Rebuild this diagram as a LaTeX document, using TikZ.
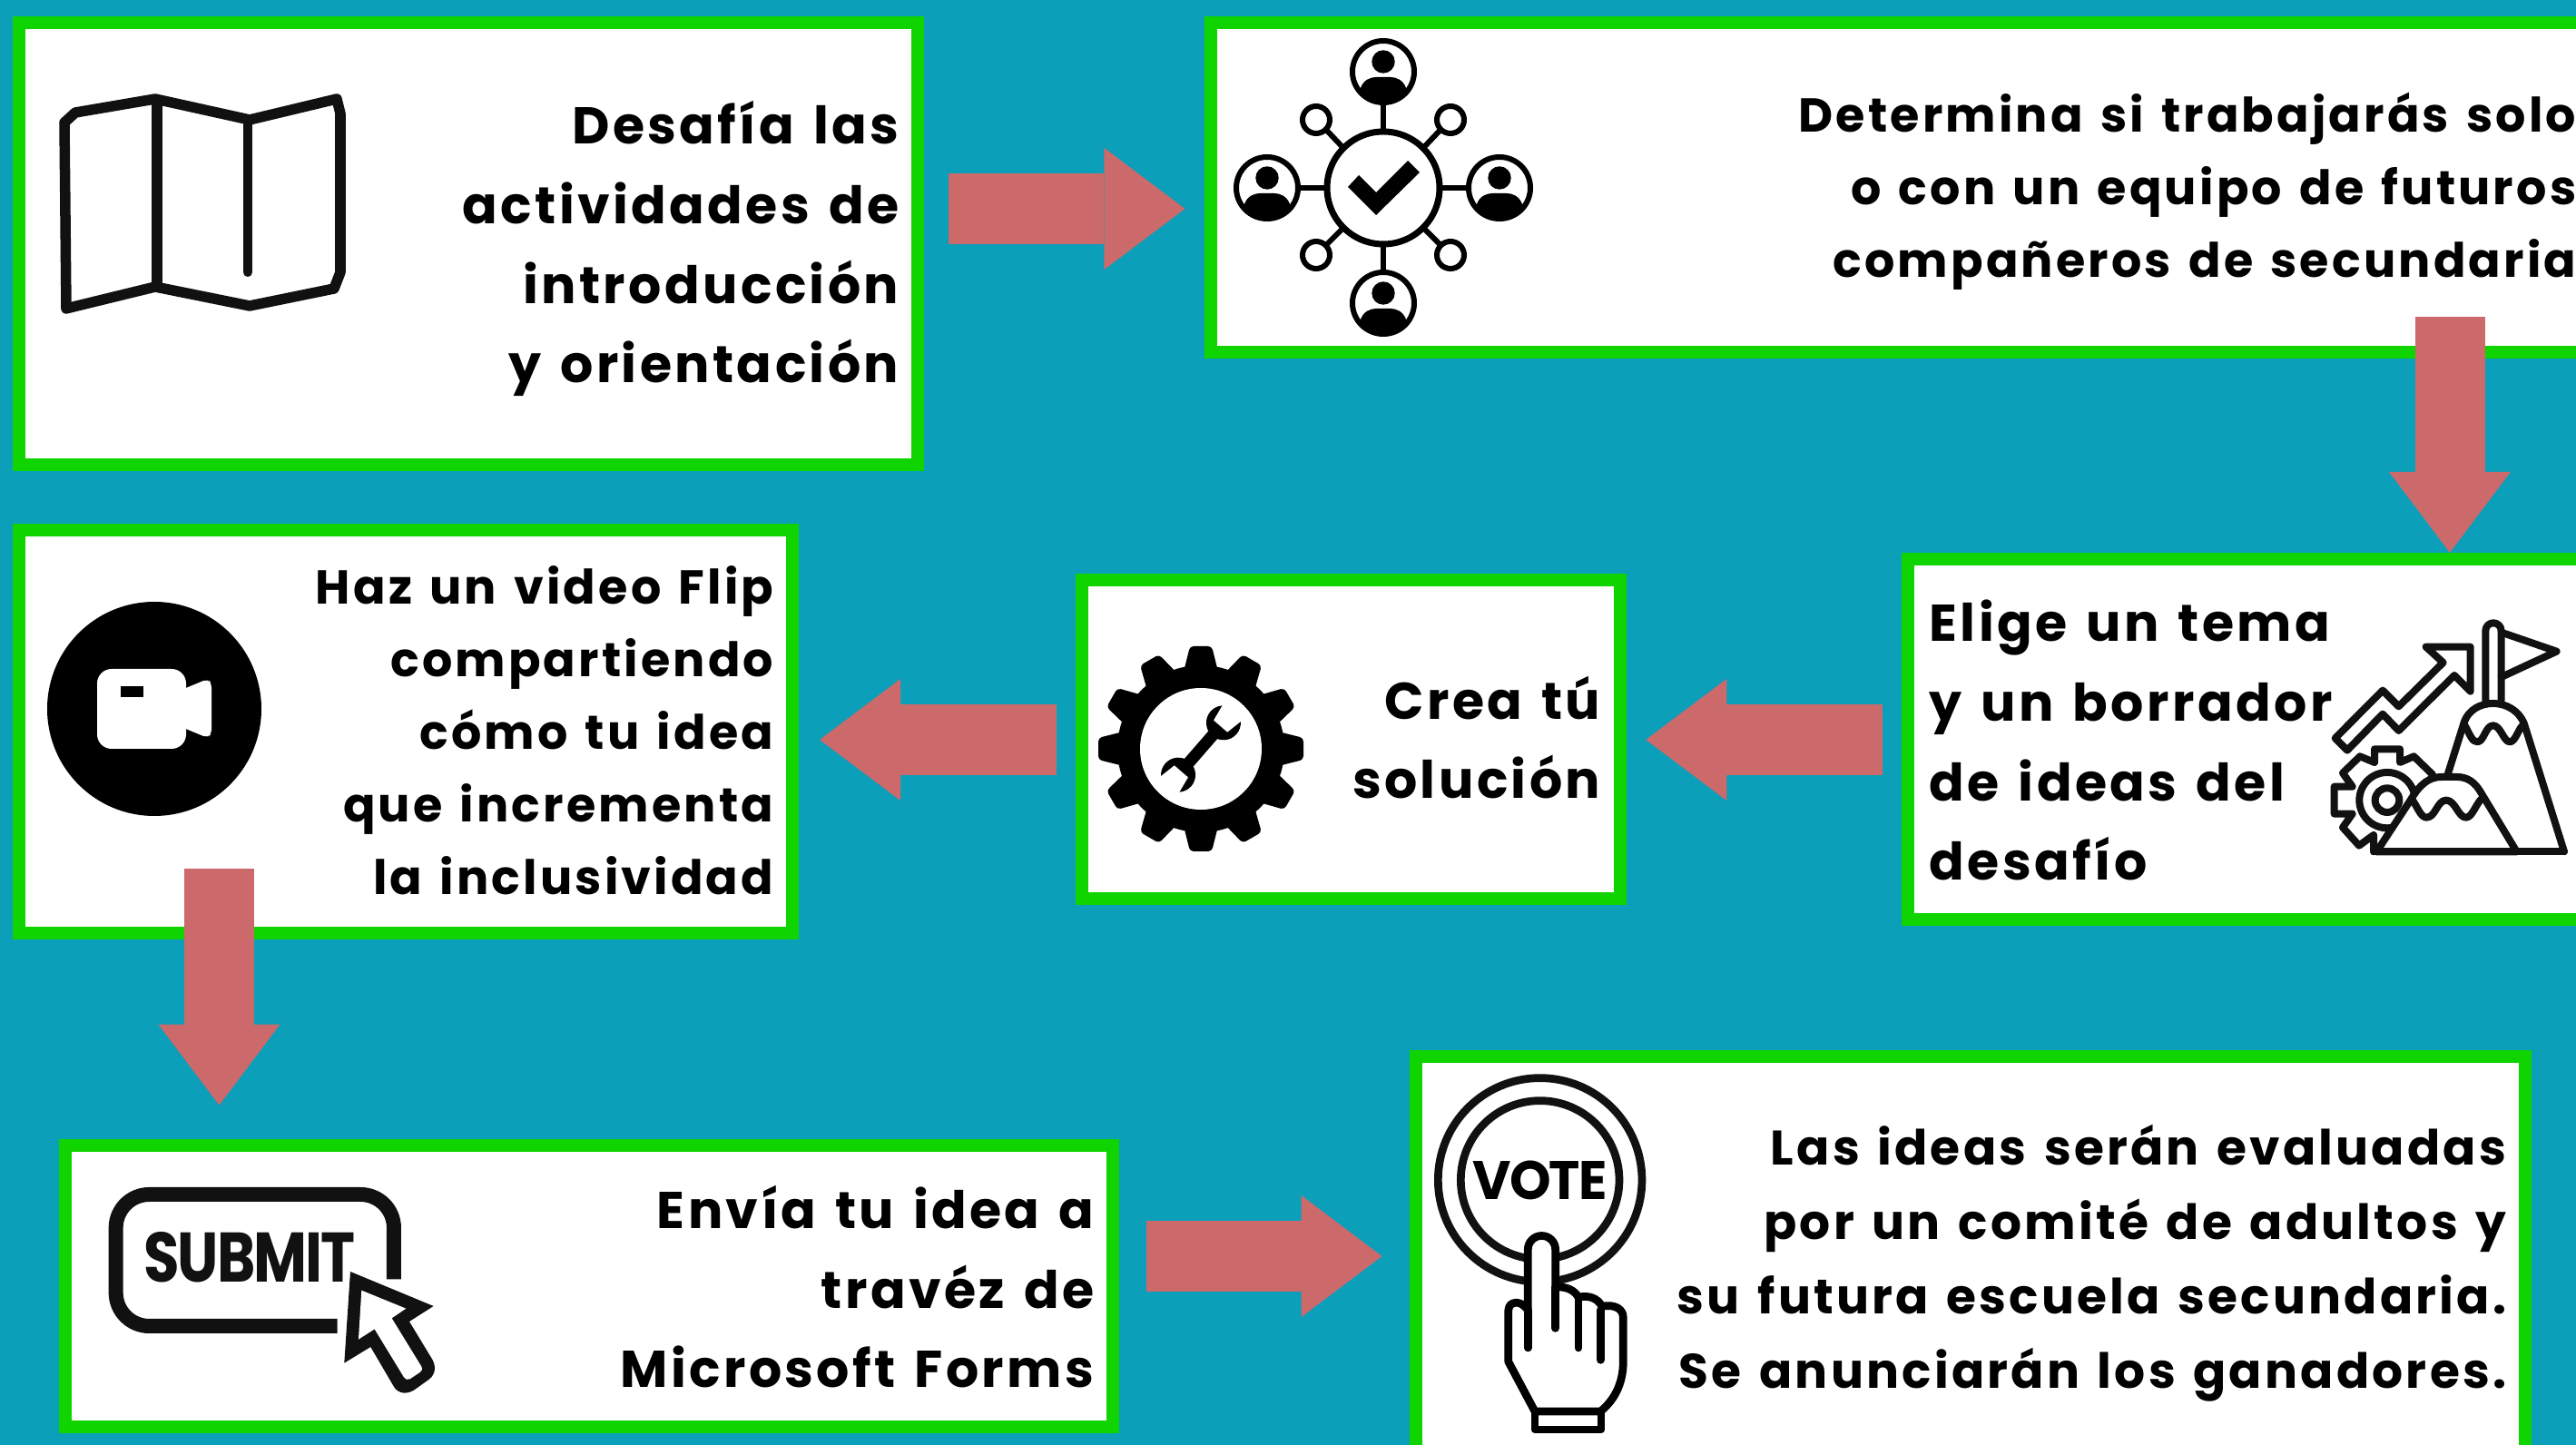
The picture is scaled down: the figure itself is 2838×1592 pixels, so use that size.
\documentclass[tikz,border=0pt]{standalone}
\usepackage{fontspec}
\usetikzlibrary{arrows.meta}
\newfontfamily\letra[LetterSpace=6,WordSpace=1.35]{Poppins}
\newfontfamily\letraIcono[LetterSpace=-3]{Poppins}
\definecolor{fondo}{HTML}{0B9FBA}
\definecolor{verdeCaja}{HTML}{10D400}
\definecolor{rojoFlecha}{HTML}{CB696B}
\definecolor{negroIcono}{HTML}{111111}
\tikzset{
  caja/.style={draw=verdeCaja,fill=white,line width=.14cm,inner sep=0pt},
  flecha/.style={draw=rojoFlecha,line width=.77cm,-{Triangle[length=.89cm,width=1.34cm,line width=0pt,fill=rojoFlecha]}},
  textoBase/.style={inner sep=0pt,anchor=base east,align=right,text=black},
  textoG/.style={textoBase,font=\letra\bfseries\fontsize{16.2}{25}\selectfont},
  textoP/.style={textoBase,font=\letra\bfseries\fontsize{14.9}{22.8}\selectfont},
  textoV/.style={textoBase,font=\letra\bfseries\fontsize{15.2}{23.4}\selectfont},
  trazo/.style={draw=negroIcono,line width=.08cm,line cap=round,line join=round},
  linea/.style={draw=black,line width=.06cm},
  persona/.pic={
    \draw[linea,fill=white] (0,0) circle[radius=34];
    \fill (0,-11) circle[radius=12.7];
    \fill (-25,18) .. controls (-22,9) and (-14,6) .. (-8,6) -- (8,6) .. controls (14,6) and (22,9) .. (25,18)
      -- (26,22) arc[start angle=40,end angle=140,radius=34] -- cycle;
  }
}
\begin{document}
\begin{tikzpicture}[x=.01cm,y=-.01cm]
	\path[use as bounding box,clip] (0,0) rectangle (2838,1592);
	\fill[fondo] (0,0) rectangle (2838,1592);
	\node[caja,minimum width=9.895cm,minimum height=4.87cm] (reto) at (516,268.5) {};
	\node[caja,minimum width=15.66cm,minimum height=3.63cm] (equipo) at (2117,206.5) {};
	\node[caja,minimum width=7.98cm,minimum height=3.97cm] (tema) at (2501,814.5) {};
	\node[caja,minimum width=5.93cm,minimum height=3.51cm] (solucion) at (1488.5,814.5) {};
	\node[caja,minimum width=8.515cm,minimum height=4.44cm] (video) at (447,806) {};
	\node[caja,minimum width=11.54cm,minimum height=3.105cm] (envio) at (649,1417) {};
	\node[caja,minimum width=12.22cm,minimum height=4.85cm] (jurado) at (2171,1407) {};
	\node[textoG] (txtReto) at (991,422) {Desafía las\\actividades de\\introducción\\y orientación};
	\node[textoP] (txtEquipo) at (2839,306) {Determina si trabajarás solo\\o con un equipo de futuros\\compañeros de secundaria};
	\node[textoG,align=left,anchor=base west] (txtTema) at (2125,970) {Elige un tema\\y un borrador\\de ideas del\\desafío};
	\node[textoG] (txtSolucion) at (1764,880) {Crea tú\\solución};
	\node[textoP] (txtVideo) at (853,986) {Haz un video Flip\\compartiendo\\cómo tu idea\\que incrementa\\la inclusividad};
	\node[textoG] (txtEnvio) at (1206,1529) {Envía tu idea a\\travéz de\\Microsoft Forms};
	\node[textoV] (txtJurado) at (2762,1530) {Las ideas serán evaluadas\\por un comité de adultos y\\su futura escuela secundaria.\\Se anunciarán los ganadores.};
	\draw[trazo,line width=.115cm] (73,340) -- (71,135) -- (83,124) -- (171,109) -- (275,132) -- (371,109) -- (375,125) -- (375,300) -- (368,318) -- (275,337) -- (171,316) -- (85,337) -- cycle;
	\draw[trazo,line width=.115cm] (173,112) -- (173,312);
	\draw[trazo,line width=.1cm] (273,135) -- (273,300);
	\draw[linea,line width=.07cm] (1524,207) circle[radius=62];
	\draw[linea] (1524,116) -- (1524,145) (1524,269) -- (1524,298) (1433,207) -- (1462,207) (1586,207) -- (1615,207);
	\draw[linea] (1461,143) -- (1480,163) (1587,143) -- (1568,163) (1461,270) -- (1480,251) (1587,270) -- (1568,251);
	\draw[linea] (1450,132) circle[radius=15] (1598,132) circle[radius=15] (1450,281) circle[radius=15] (1598,281) circle[radius=15];
	\pic at (1524,79) {persona};
	\pic at (1396,207) {persona};
	\pic at (1652,207) {persona};
	\pic at (1524,334) {persona};
	\fill (1485,206) -- (1497,193) -- (1516,212) -- (1551,177) -- (1564,190) -- (1516,237) -- cycle;
	\begin{scope}[shift={(2500,640)},scale=.3333]
		\draw[trazo] (218,520) -- (375,362) -- (428,415) -- (575,270) -- (518,218) -- (665,218) -- (665,365) -- (612,312) -- (428,495) -- (375,440) -- (258,560) -- cycle;
		\draw[trazo] (715,395) -- (715,165) arc[start angle=180,end angle=360,radius=26] -- (767,395);
		\draw[trazo] (767,170) -- (950,233) -- (767,318);
		\draw[trazo] (590,640) -- (645,465) .. controls (660,425) and (700,405) .. (740,405) .. controls (785,405) and (825,430) .. (842,470) -- (975,895);
		\draw[trazo] (645,475) .. controls (665,510) and (670,532) .. (688,532) .. controls (710,532) and (715,478) .. (740,478) .. controls (765,478) and (775,532) .. (795,532) .. controls (812,532) and (820,500) .. (835,480);
		\draw[trazo] (348,600) -- (348,556) -- (432,556) -- (432,600) -- (478,580) -- (540,640);
		\draw[trazo] (348,600) -- (300,580) -- (243,635) -- (275,680) -- (215,680) -- (215,770) -- (275,770) -- (243,815) -- (297,875) -- (345,840) -- (345,895);
		\draw[trazo] (390,725) circle[radius=92] (390,725) circle[radius=40];
		\draw[trazo,fill=white] (355,895) -- (470,720) .. controls (500,670) and (530,648) .. (570,648) -- (620,648) .. controls (655,648) and (680,665) .. (700,700) -- (818,895) -- cycle;
		\draw[trazo] (470,720) .. controls (490,745) and (500,782) .. (520,782) .. controls (550,782) and (555,725) .. (585,725) .. controls (615,725) and (625,782) .. (650,782) .. controls (670,782) and (680,745) .. (700,722);
		\draw[trazo] (345,895) -- (975,895);
	\end{scope}
	\fill (1323,825) circle[radius=92];
	\foreach \a in {0,30,...,330}
		\fill[shift={(1323,825)},rotate=\a,rounded corners=.04cm] (-19,-85) -- (-12,-113) -- (12,-113) -- (19,-85) -- cycle;
	\fill[white] (1323,825) circle[radius=67];
	\begin{scope}[shift={(1323,825)},rotate=49]
		\fill (-26,-6.5) rectangle (26,6.5);
		\fill (38,0) circle[radius=19] (-38,0) circle[radius=19];
		\fill[white] (33,-10) -- (33,10) -- (60,15) -- (60,-15) -- cycle;
		\fill[white] (-33,-10) -- (-33,10) -- (-60,15) -- (-60,-15) -- cycle;
	\end{scope}
	\fill (170,781) circle[radius=118];
	\fill[white,rounded corners=.16cm] (107,737) rectangle (205,825);
	\fill[white,rounded corners=.05cm] (200,760) -- (229,748) -- (233,753) -- (233,808) -- (229,813) -- (200,801) -- cycle;
	\fill (133,756) rectangle (158,768);
	\begin{scope}[shift={(90,1270)},scale=.3333]
		\draw[negroIcono,line width=.16cm,rounded corners=.367cm] (845,573) -- (113,573) -- (113,138) -- (1032,138) -- (1032,418);
		\node[font=\letraIcono\bfseries\fontsize{22}{22}\selectfont,text=negroIcono,inner sep=0pt] (boton) at (555,345) {\scalebox{.83}[1]{SUBMIT}};
		\fill[negroIcono] (888,393) -- (1163,507) -- (1083,558) -- (1160,685) .. controls (1175,715) and (1165,740) .. (1140,755) -- (1105,780) .. controls (1080,800) and (1045,800) .. (1030,770) -- (955,642) -- (868,695) -- cycle;
		\fill[white] (925,455) -- (1072,515) -- (1025,547) -- (1122,705) .. controls (1128,715) and (1125,722) .. (1118,726) -- (1085,748) .. controls (1078,752) and (1070,750) .. (1065,742) -- (968,583) -- (915,617) -- cycle;
	\end{scope}
	\begin{scope}[shift={(1540,1150)},scale=.3333]
		\draw[trazo,line width=.087cm] (470,450) circle[radius=337] (470,450) circle[radius=262];
		\node[font=\letraIcono\bfseries\fontsize{17}{17}\selectfont,text=black,inner sep=0pt] (voto) at (470,452) {\scalebox{.97}[1]{VOTE}};
		\draw[trazo,line width=.087cm,draw=black,fill=white] (430,880) .. controls (415,860) and (395,850) .. (380,858) .. controls (368,862) and (365,875) .. (365,890) -- (365,1050) -- (453,1215) -- (670,1215) .. controls (725,1170) and (745,1110) .. (745,1050) -- (745,905) .. controls (745,875) and (715,860) .. (675,868) .. controls (660,840) and (630,830) .. (597,838) .. controls (585,815) and (555,800) .. (521,805) -- (521,680) arc[start angle=0,end angle=-180,radius=45.5] -- cycle;
		\draw[trazo,line width=.087cm,draw=black] (430,880) -- (430,1005) (521,805) -- (521,940) (597,838) -- (597,1005) (670,880) -- (670,1045);
		\draw[trazo,line width=.087cm,draw=black] (453,1215) rectangle (672,1275);
	\end{scope}
	\draw[flecha,shorten <=.27cm,shorten >=.21cm] (reto.east |- 0,230) -- (equipo.west |- 0,230);
	\draw[flecha,shorten <=-.46cm] (2699,0 |- equipo.south) -- (2699,0 |- tema.north);
	\draw[flecha,shorten <=.21cm,shorten >=.21cm] (tema.west |- 0,815) -- (solucion.east |- 0,815);
	\draw[flecha,shorten <=.21cm,shorten >=.23cm] (solucion.west |- 0,815) -- (video.east |- 0,815);
	\draw[flecha,shorten <=-.78cm,shorten >=.37cm] (241.5,0 |- video.south) -- (241.5,0 |- envio.north);
	\draw[flecha,shorten <=.3cm,shorten >=.3cm] (envio.east |- 0,1384) -- (jurado.west |- 0,1384);
\end{tikzpicture}
\end{document}
